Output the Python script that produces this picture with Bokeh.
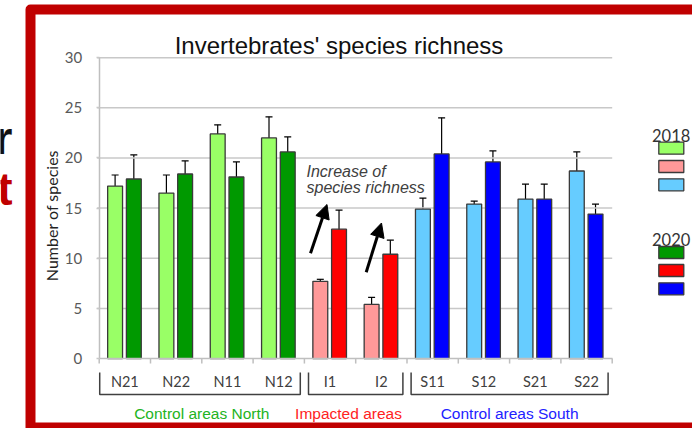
import math
from bokeh.plotting import figure
from bokeh.models import (ColumnDataSource, Range1d, LinearAxis, FixedTicker,
                          Whisker, TeeHead, Arrow, NormalHead)
from bokeh.core.properties import value
from bokeh.embed import file_html
from bokeh.resources import INLINE

# ---------------- data ----------------
sites = ["N21", "N22", "N11", "N12", "I1", "I2", "S11", "S12", "S21", "S22"]
groups = ["Control areas North", "Impacted areas", "Control areas South"]
group_sizes = [4, 2, 4]
years = ["2018", "2020"]

mean_2018 = [17.2, 16.5, 22.4, 22.0, 7.7, 5.4, 14.9, 15.4, 15.9, 18.7]
low_2018 = [16.1, 14.5, 21.5, 19.9, 7.5, 4.8, 13.8, 15.2, 14.4, 16.8]
high_2018 = [18.3, 18.3, 23.3, 24.1, 7.9, 6.1, 16.0, 15.7, 17.4, 20.6]

mean_2020 = [17.9, 18.4, 18.1, 20.6, 12.9, 10.4, 20.4, 19.6, 15.9, 14.4]
low_2020 = [15.6, 17.1, 16.7, 19.3, 11.1, 9.0, 16.8, 18.6, 14.4, 13.4]
high_2020 = [20.3, 19.7, 19.6, 22.1, 14.8, 11.8, 24.0, 20.7, 17.4, 15.4]

y_ticks = [0, 5, 10, 15, 20, 25, 30]

title_text = "Invertebrates' species richness"
y_label = "Number of species"
note_lines = ["Increase of", "species richness"]

# ---------------- styles ----------------
light_colors = ["#99ff66", "#ff9999", "#66ccff"]
dark_colors = ["#009900", "#ff0000", "#0000ff"]
group_text_colors = ["#22b422", "#ff2222", "#2222ff"]
CAL_NAME = "Lato"
CAL = value(CAL_NAME)
ARIAL = value("Liberation Sans")

W, H = 692, 428
# pixel -> data helpers for decorations
X0_PX, PX_PER_X = 98.7, 51.3
Y0_PX, PX_PER_Y = 358.05, 10.03


def X(px):
    return (px - X0_PX) / PX_PER_X


def Y(py):
    return (Y0_PX - py) / PX_PER_Y


p = figure(width=W, height=H, output_backend="svg", toolbar_location=None,
           tools="", title=None, x_axis_type=None, y_axis_type=None,
           x_range=Range1d(X(0), X(W)), y_range=Range1d(Y(H), Y(0)),
           min_border=0, outline_line_color=None,
           background_fill_color="white", border_fill_color="white")

# group index per site
gidx = []
for g, n in enumerate(group_sizes):
    gidx += [g] * n
n_sites = len(sites)

# ---------------- gridlines ----------------
grid_y = [t for t in y_ticks if t > 0]
p.segment(x0=[X(96.7)] * len(grid_y), x1=[n_sites] * len(grid_y), y0=grid_y,
          y1=grid_y, line_color="#c8c8c8", line_width=1.5)
# category boundary ticks below the x axis
bounds_x = list(range(n_sites + 1))
p.segment(x0=bounds_x, x1=bounds_x, y0=[0] * len(bounds_x),
          y1=[-5 / PX_PER_Y] * len(bounds_x), line_color="#bfbfbf", line_width=1.5)

# ---------------- bars ----------------
W_BAR = 0.29
xs18 = [i + 0.5 - 0.19 for i in range(n_sites)]
xs20 = [i + 0.5 + 0.175 for i in range(n_sites)]
src18 = ColumnDataSource(dict(x=xs18, top=mean_2018, lo=low_2018, hi=high_2018,
                              color=[light_colors[g] for g in gidx]))
src20 = ColumnDataSource(dict(x=xs20, top=mean_2020, lo=low_2020, hi=high_2020,
                              color=[dark_colors[g] for g in gidx]))
for src in (src18, src20):
    p.vbar(x="x", top="top", bottom=0, width=W_BAR, source=src,
           fill_color="color", line_color="#3a3a3a", line_width=1.3)
    wh = Whisker(base="x", lower="lo", upper="hi", source=src,
                 line_color="black", line_width=1.2,
                 upper_head=TeeHead(size=7, line_color="black", line_width=1.2),
                 lower_head=TeeHead(size=7, line_color="black", line_width=1.2))
    p.add_layout(wh)

# ---------------- axes ----------------
yax = LinearAxis(fixed_location=0, bounds=(0, 30),
                 ticker=FixedTicker(ticks=y_ticks, minor_ticks=[]),
                 axis_line_color="#bfbfbf", axis_line_width=1.5,
                 major_tick_line_color="#c8c8c8", major_tick_line_width=1.5,
                 major_tick_out=3, major_tick_in=0, minor_tick_out=0,
                 major_label_standoff=14,
                 major_label_text_font=CAL_NAME, major_label_text_font_size="15px",
                 major_label_text_color="#595959")
p.add_layout(yax, "left")

centers = [i + 0.5 for i in range(n_sites)]
lab_ax = LinearAxis(fixed_location=0, bounds=(0, n_sites),
                    ticker=FixedTicker(ticks=centers, minor_ticks=[]),
                    major_label_overrides={c: s for c, s in zip(centers, sites)},
                    axis_line_color="#bfbfbf", axis_line_width=1.5,
                    major_tick_line_color=None,
                    minor_tick_line_color=None, major_tick_out=0, major_tick_in=0,
                    major_label_standoff=14,
                    major_label_text_font=CAL_NAME, major_label_text_font_size="14.5px",
                    major_label_text_color="#404040")
p.add_layout(lab_ax, "below")

# ---------------- group brackets and labels ----------------
bx, by = [], []
gl_x, gl_y = [], []
start = 0
for g, n in enumerate(group_sizes):
    end = start + n
    l = start + (0.01 if start == 0 else 0.08)
    r = end - 0.08
    bx.append([l, l, r, r])
    by.append([Y(372), Y(394), Y(394), Y(372)])
    gl_x.append((start + end) / 2 - (0.14 if n == 2 else 0))
    gl_y.append(Y(412.5))
    start = end
p.multi_line(xs=bx, ys=by, line_color="#404040", line_width=1.5)
p.text(x=gl_x, y=gl_y, text=groups, text_color=group_text_colors,
       text_font=ARIAL, text_font_size="15.5px", text_align="center",
       text_baseline="alphabetic")

# ---------------- title, y label, note ----------------
p.text(x=[X(338.5)], y=[Y(45)], text=[title_text], text_font=ARIAL,
       text_font_size="24px", text_color="#111111", text_align="center",
       text_baseline="alphabetic")
p.text(x=[X(51)], y=[Y(215)], text=[y_label], angle=math.pi / 2,
       text_font=CAL, text_font_size="16px", text_color="#222222",
       text_align="center", text_baseline="middle")
p.text(x=[X(306)] * 2, y=[Y(170.7), Y(186.7)], text=note_lines,
       text_font=ARIAL, text_font_style="italic", text_font_size="16px",
       text_color="#404040", text_align="left", text_baseline="alphabetic")

# arrows (annotation)
arrows = [((X(310), Y(252.7)), (X(326.5), Y(204))),
          ((X(365.7), Y(271.7)), (X(381), Y(222.5)))]
for (xs_, ys_), (xe, ye) in arrows:
    p.add_layout(Arrow(x_start=xs_, y_start=ys_, x_end=xe, y_end=ye,
                       line_color="black", line_width=3,
                       end=NormalHead(size=14, fill_color="black",
                                      line_color="black")))

# ---------------- legend ----------------
leg_tops = {"2018": [141.7, 160.0, 178.3], "2020": [246.0, 264.0, 282.3]}
leg_label_base = {"2018": 134.5, "2020": 238.5}
for yr, cols in zip(years, [light_colors, dark_colors]):
    tops = leg_tops[yr]
    p.quad(left=[X(658.3)] * 3, right=[X(683.3)] * 3,
           top=[Y(t) for t in tops], bottom=[Y(t + 12) for t in tops],
           fill_color=cols, line_color="#3a3a3a", line_width=1.3)
    p.text(x=[X(651.5)], y=[Y(leg_label_base[yr])], text=[yr], text_font=CAL,
           text_font_size="16.5px", text_color="#333333", text_align="left",
           text_baseline="alphabetic")

# ---------------- slide frame & cut-off slide text ----------------
p.quad(left=[X(30)], right=[X(760)], top=[Y(9)], bottom=[Y(427)],
       fill_color=None, line_color="#c00000", line_width=10, line_join="round")
p.text(x=[X(12)], y=[Y(137)], text=["r"], text_font=ARIAL,
       text_font_style="bold", text_font_size="46px", text_color="#111111",
       text_align="right", text_baseline="alphabetic")
p.text(x=[X(12)], y=[Y(188)], text=["t"], text_font=ARIAL,
       text_font_style="bold", text_font_size="46px", text_color="#c00000",
       text_align="right", text_baseline="alphabetic")

open("out.html", "w").write(file_html(p, INLINE))
